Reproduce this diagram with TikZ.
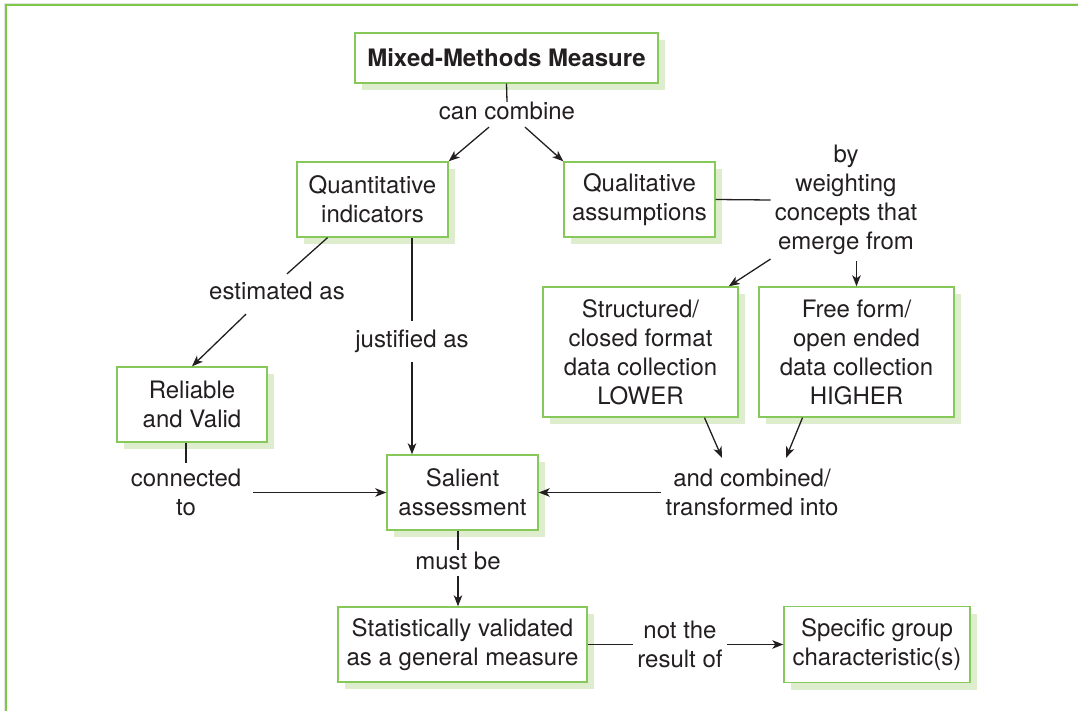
\documentclass[tikz,border=0pt]{standalone}
\usepackage{fontspec}
\setmainfont{TeX Gyre Heros}
\usetikzlibrary{arrows.meta,shadows,calc}
\definecolor{framegreen}{RGB}{126,200,72}
\definecolor{boxgreen}{RGB}{135,200,90}
\definecolor{shadegreen}{RGB}{223,237,207}
\definecolor{ink}{RGB}{35,31,32}

\begin{document}
\begin{tikzpicture}[x=1pt,y=-1pt,
  font=\fontsize{24}{29}\selectfont, text=ink,
  box/.style={draw=boxgreen, line width=1.4pt, fill=white, align=center, inner sep=0pt,
    general shadow={fill=shadegreen, shadow xshift=7pt, shadow yshift=-7pt}},
  lbl/.style={align=center, inner xsep=4pt, inner ysep=0pt},
  link/.style={draw=ink, line width=1.3pt},
  arr/.style={link, -{Stealth[length=11pt,width=8.5pt,inset=3pt]}}]

\useasboundingbox (0,0) rectangle (1078,711);

% page frame: top and left rules
\draw[gray!20, line width=1.2pt] (4.6,711) -- (4.6,3.4) -- (1078,3.4);
\draw[framegreen, line width=1.8pt] (6.3,711) -- (6.3,5) -- (1078,5);

% concept boxes
\node[box, minimum width=303, minimum height=50] (title) at (506.5,58) {\bfseries Mixed-Methods Measure};
\node[box, minimum width=151, minimum height=75] (quant) at (372.5,199.5) {Quantitative\\indicators};
\node[box, minimum width=151, minimum height=75] (qual) at (639.5,199.5) {Qualitative\\assumptions};
\node[box, minimum width=195, minimum height=130] (struct) at (640.5,352) {Structured/\\closed format\\data collection\\LOWER};
\node[box, minimum width=195, minimum height=130] (free) at (856.5,352) {Free form/\\open ended\\data collection\\HIGHER};
\node[box, minimum width=150, minimum height=75] (rel) at (192,404.5) {Reliable\\and Valid};
\node[box, minimum width=151, minimum height=75] (sal) at (462.5,492.5) {Salient\\assessment};
\node[box, minimum width=249, minimum height=75] (stat) at (462.5,644.5) {Statistically validated\\as a general measure};
\node[box, minimum width=186, minimum height=76] (spec) at (877,644.5) {Specific group\\characteristic(s)};

% linking phrases
\node[lbl] (cancomb) at (507,111) {can combine};
\node[lbl] (byw) at (846,200) {by\\weighting\\concepts that\\emerge from};
\node[lbl] (est) at (277,291) {estimated as};
\node[lbl] (just) at (412,341.8) {justified as};
\node[lbl] (conn) at (186,492.5) {connected\\to};
\node[lbl] (andcomb) at (752,492.5) {and combined/\\transformed into};
\node[lbl] (mustbe) at (458,561) {must be};
\node[lbl] (notthe) at (680,644.5) {not the\\result of};

% connectors
\draw[link] (title.south) -- (cancomb.north);
\draw[arr] ($(cancomb.south)+(-18,7)$) -- (quant.north east);
\draw[arr] ($(cancomb.south)+(18,7)$) -- (qual.north west);
\draw[link] (qual.east) -- (byw.west);
\draw[arr] ($(byw.south west)+(0,4)$) -- ($(struct.north east)+(-10,0)$);
\draw[arr, shorten <=6pt] (byw.south -| free.north) -- (free.north);
\draw[link] ($(quant.south)+(-45,0)$) -- ($(est.north)+(10,-8)$);
\draw[arr] ($(est.south)+(-31,14)$) -- (rel.north);
\draw[link, shorten >=9pt] (quant.south -| just.north) -- (just.north);
\draw[arr, shorten <=9pt] (just.south) -- (sal.north -| just.south);
\draw[link, shorten >=6pt] (conn.north |- rel.south) -- (conn.north);
\draw[arr, shorten <=8pt] (conn.east) -- (sal.west);
\draw[arr] (andcomb.west) -- (sal.east);
\draw[arr] ($(struct.south)+(64,0)$) -- ($(andcomb.north)+(-30,-11)$);
\draw[arr] ($(free.south)+(-54,0)$) -- ($(andcomb.north)+(34,-11)$);
\draw[link, shorten >=2pt] (mustbe.north |- sal.south) -- (mustbe.north);
\draw[arr, shorten <=6pt] (mustbe.south) -- (stat.north -| mustbe.south);
\draw[link] (stat.east) -- (notthe.west);
\draw[arr] (notthe.east) -- (spec.west);

\end{tikzpicture}
\end{document}
